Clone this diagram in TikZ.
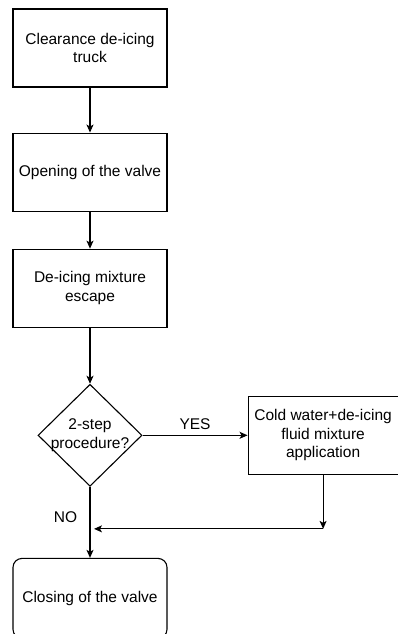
\documentclass[tikz,border=0pt]{standalone}
\usepackage{fontspec}
\setmainfont{Liberation Sans}
\usetikzlibrary{positioning, shapes.geometric, arrows.meta}
\tikzstyle{block}  = [rectangle, draw, align=center, line width=1.1pt,
                      minimum height=78pt, minimum width=154pt]
\tikzstyle{arrow}  = [-{Stealth[length=8pt, width=7pt, inset=2pt]}, line width=1.1pt]

\begin{document}
\begin{tikzpicture}[x=1pt, y=-1pt, font=\fontsize{15.5}{18.5}\selectfont,
  dec/.style={diamond, draw, align=center, line width=1.1pt, aspect=1,
              inner sep=-3pt, minimum width=104pt, minimum height=102pt},
  endbox/.style={block, rounded corners=9pt, minimum height=80pt},
  side/.style={block, minimum width=150pt},
  arr/.style={arrow}]
\useasboundingbox (0,0) rectangle (398,634);
\node[block] (truck) at (90,48) {Clearance de-icing\\truck};
\node[block, below=45pt of truck] (open) {Opening of the valve};
\node[block, below=37pt of open] (escape) {De-icing mixture\\escape};
\node[dec, below=56pt of escape] (twostep) {2-step\\procedure?};
\node[side, right=105pt of twostep] (cold) {Cold water+de-icing\\fluid mixture\\application};
\node[endbox, below=71pt of twostep] (close) {Closing of the valve};
\coordinate[below=54pt of cold.south] (merge);
\draw[arr] (truck)--(open); \draw[arr] (open)--(escape); \draw[arr] (escape)--(twostep);
\draw[arr] (twostep)--(cold) node[midway, above=2pt] {YES};
\draw[arr] (twostep)--(close) node[pos=0.42, left=9pt] {NO};
\draw[arr] (cold.south)--(merge);
\draw[arr] (merge)--([xshift=4pt]twostep.south |- merge);
\end{tikzpicture}
\end{document}
